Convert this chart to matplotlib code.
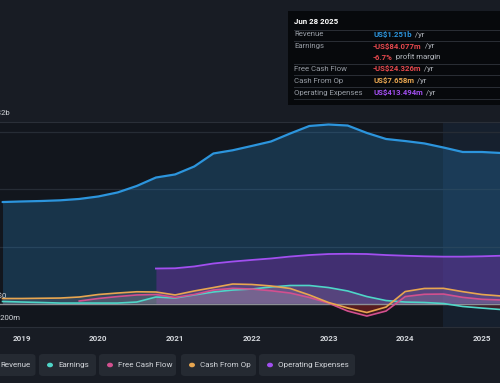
import matplotlib
matplotlib.use("Agg")
import matplotlib.pyplot as plt
from matplotlib.patches import FancyBboxPatch, Rectangle, Circle
import numpy as np

# --- data (US$ billions, quarterly, trailing twelve months) ---
quarters = 2018.75 + 0.25 * np.arange(27)

revenue = [0.890, 0.895, 0.899, 0.905, 0.917, 0.939, 0.974, 1.031, 1.105, 1.132,
           1.202, 1.316, 1.344, 1.382, 1.421, 1.491, 1.557, 1.570, 1.561, 1.496,
           1.443, 1.425, 1.404, 1.368, 1.329, 1.329, 1.320]
earnings = [0.018, 0.013, 0.009, 0.004, 0.004, 0.004, 0.004, 0.013, 0.057, 0.048,
            0.075, 0.101, 0.118, 0.127, 0.145, 0.158, 0.158, 0.140, 0.110, 0.061,
            0.026, 0.013, 0.009, 0.000, -0.026, -0.040, -0.053]
cash_from_op = [0.044, 0.044, 0.046, 0.048, 0.057, 0.079, 0.092, 0.103, 0.101, 0.075,
                0.110, 0.140, 0.171, 0.167, 0.154, 0.132, 0.075, 0.009, -0.039, -0.079,
                -0.031, 0.105, 0.132, 0.133, 0.104, 0.079, 0.066]
# free cash flow starts in Q4 2019, operating expenses in Q4 2020
fcf_start = 4
free_cash_flow = [0.022, 0.044, 0.061, 0.075, 0.079, 0.053, 0.079, 0.118, 0.133, 0.127,
                  0.112, 0.092, 0.053, 0.004, -0.066, -0.110, -0.066, 0.061, 0.081, 0.083,
                  0.054, 0.037, 0.031]
opex_start = 8
operating_expenses = [0.307, 0.309, 0.325, 0.351, 0.368, 0.382, 0.395, 0.412, 0.425, 0.434,
                      0.436, 0.434, 0.425, 0.419, 0.414, 0.411, 0.411, 0.414, 0.419]

years = [2019, 2020, 2021, 2022, 2023, 2024, 2025]
highlight_from = 2024.49

tooltip_rows = [
    ("Revenue", "US$1.251b", " /yr", "#2c95dd"),
    ("Earnings", "-US$84.077m", " /yr", "#e5484d"),
    ("", "-6.7%", " profit margin", "#e5484d"),
    ("Free Cash Flow", "-US$24.326m", " /yr", "#e5484d"),
    ("Cash From Op", "US$7.658m", " /yr", "#e8a650"),
    ("Operating Expenses", "US$413.494m", " /yr", "#a24ff0"),
]
legend_items = [
    ("Revenue", "#2c95dd"),
    ("Earnings", "#4fd6c8"),
    ("Free Cash Flow", "#d2508f"),
    ("Cash From Op", "#e8a650"),
    ("Operating Expenses", "#a24ff0"),
]

# --- styling ---
W, H = 500, 383
BG = "#181c24"
PLOT_BG = "#12161d"
TXT = "#d3d6db"
FS = 5.6
C_REV, C_EARN, C_FCF, C_CFO, C_OPEX = [c for _, c in legend_items]

plt.rcParams["font.family"] = ["Roboto", "DejaVu Sans"]


def px(x, y):
    """pixel position (from top-left) -> figure fraction"""
    return x / W, 1 - y / H


fig = plt.figure(figsize=(W / 100, H / 100), dpi=100, facecolor=BG)
ax = fig.add_axes([0, 1 - 327 / H, 1, (327 - 122) / H])
ax.set_facecolor(PLOT_BG)

t = quarters
t_fcf = quarters[fcf_start:]
t_opex = quarters[opex_start:]
rev = np.array(revenue)
earn = np.array(earnings)
cfo = np.array(cash_from_op)
fcf = np.array(free_cash_flow)
opex = np.array(operating_expenses)

# highlighted last period
ax.axvspan(highlight_from, 2026, color="#3b7fc4", alpha=0.10, lw=0, zorder=1)

# gridlines
for g in [0.5, 1.0, 1.5]:
    ax.axhline(g, color="#262c35", lw=0.9, zorder=1.5)

# fills
ax.fill_between(t, rev, 0, color=C_REV, alpha=0.24, lw=0, zorder=2)
ax.fill_between(t_opex, opex, 0, color="#7a2aa8", alpha=0.42, lw=0, zorder=2.1)
for tt, vv in [(t, cfo), (t_fcf, fcf), (t, earn)]:
    ax.fill_between(tt, vv, 0, where=vv >= 0, interpolate=True,
                    color="#b9a7b8", alpha=0.18, lw=0, zorder=2.2)
    ax.fill_between(tt, vv, 0, where=vv < 0, interpolate=True,
                    color="#8a2020", alpha=0.35, lw=0, zorder=2.2)

ax.axhline(0, color="#8d9096", lw=1.0, zorder=2.5)

# lines
ax.plot(t, rev, color=C_REV, lw=1.6, zorder=4, solid_capstyle="round")
ax.plot(t_opex, opex, color=C_OPEX, lw=1.3, zorder=4)
ax.plot(t, earn, color=C_EARN, lw=1.2, zorder=3.5)
ax.plot(t_fcf, fcf, color=C_FCF, lw=1.2, zorder=3.6)
ax.plot(t, cfo, color=C_CFO, lw=1.2, zorder=3.7)

ax.set_xlim(2018.717, 2025.236)
ax.set_ylim(-0.206, 1.592)
ax.set_yticks([])
ax.set_xticks(years)
ax.set_xticklabels([str(y) for y in years], color=TXT, fontsize=FS + 0.2, fontweight="bold")
ax.tick_params(axis="x", length=0, pad=6)
for s in ["left", "right"]:
    ax.spines[s].set_visible(False)
ax.spines["top"].set_color("#2a2f38")
ax.spines["bottom"].set_color("#2a2f38")

# y labels (cut off on the left like the original)
for label, (x, y) in [("US$2b", (10, 113)), ("US$0", (7, 296)), ("-US$200m", (21, 318))]:
    fig.text(*px(x, y), label, ha="right", va="center", color=TXT, fontsize=FS)

# tooltip
fig.add_artist(Rectangle(px(288, 105), 220 / W, 94 / H, transform=fig.transFigure,
                         facecolor="#07090c", edgecolor="none", zorder=5))
fig.text(*px(294, 21), "Jun 28 2025", color="white", fontsize=FS + 0.1, fontweight="bold",
         va="center", zorder=6)
for ly in [29.5, 40.5, 63.5, 75, 86.5, 98.5]:
    fig.add_artist(plt.Line2D([294 / W, 1], [1 - ly / H] * 2, transform=fig.transFigure,
                              color="#2b2f36", lw=0.7, zorder=6))
row_y = [34.5, 46, 57, 69, 80.5, 92.5]
fig.canvas.draw()
for (name, value, suffix, col), ry in zip(tooltip_rows, row_y):
    if name:
        fig.text(*px(294, ry), name, color="#979ca4", fontsize=FS, va="center", zorder=6)
    tx = fig.text(*px(373, ry), value, color=col, fontsize=FS, va="center", zorder=6,
                  fontweight="bold")
    bb = tx.get_window_extent(renderer=fig.canvas.get_renderer())
    fig.text((bb.x1 + 1) / W, 1 - ry / H, suffix, color="#b8bcc3", fontsize=FS,
             va="center", zorder=6)

# legend buttons
boxes = [(-19, 35.5), (39, 96), (99, 176), (181, 256), (259, 355)]
for (name, col), (x0, x1) in zip(legend_items, boxes):
    fig.add_artist(FancyBboxPatch(px(x0, 376), (x1 - x0) / W, 22 / H,
                                  boxstyle="round,pad=0,rounding_size=0.008",
                                  transform=fig.transFigure, facecolor="#252a32",
                                  edgecolor="none", zorder=5))
    fig.add_artist(Circle(px(x0 + 11, 365), 3.0 / W, transform=fig.transFigure,
                          facecolor=col, edgecolor="none", zorder=6))
    fig.text(*px(x0 + 19, 365), name, color=TXT, fontsize=FS + 0.2, va="center", zorder=6)

fig.savefig("out.png", dpi=100, facecolor=BG)
